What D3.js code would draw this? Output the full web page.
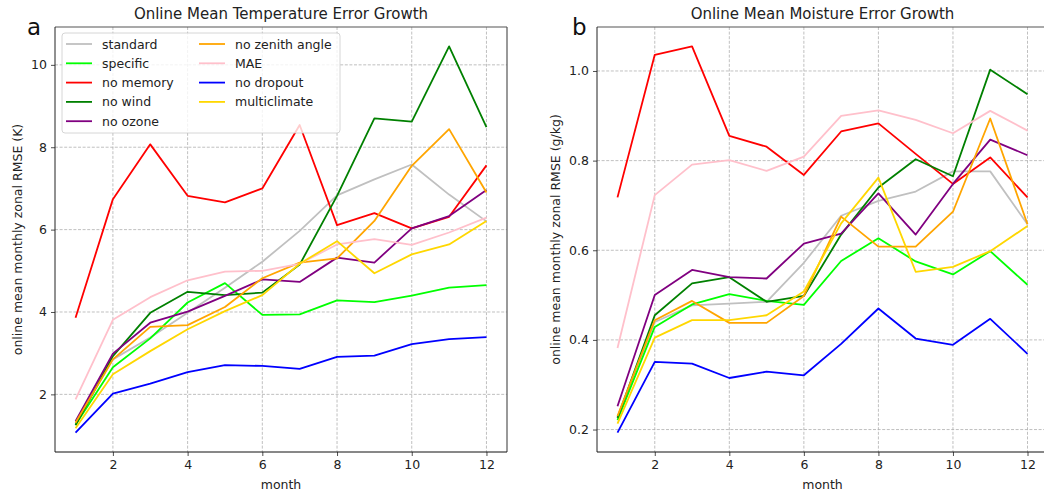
<!DOCTYPE html>
<html>
<head>
<meta charset="utf-8">
<script src="https://cdn.jsdelivr.net/npm/d3@7"></script>
<style>
  html, body { margin: 0; padding: 0; background: #fff; overflow: hidden; }
  svg { display: block; font-family: "DejaVu Sans", sans-serif; }
</style>
</head>
<body>
<svg id="chart" width="1044" height="495"></svg>
<script>
// Months on the x axis
const months = [1, 2, 3, 4, 5, 6, 7, 8, 9, 10, 11, 12];

// Experiment names and their line colours (plot order)
const seriesNames = ["standard", "specific", "no memory", "no wind", "no ozone",
                     "no zenith angle", "MAE", "no dropout", "multiclimate"];
const seriesColors = ["silver", "lime", "red", "green", "purple",
                      "orange", "pink", "blue", "gold"];

// Temperature RMSE (K)
const tempStandard   = [1.30, 2.85, 3.38, 3.98, 4.59, 5.22, 5.97, 6.83, 7.22, 7.58, 6.85, 6.20];
const tempSpecific   = [1.26, 2.66, 3.36, 4.23, 4.70, 3.93, 3.94, 4.28, 4.24, 4.40, 4.59, 4.65];
const tempNoMemory   = [3.86, 6.74, 8.07, 6.82, 6.66, 7.00, 8.54, 6.11, 6.40, 6.03, 6.31, 7.56];
const tempNoWind     = [1.25, 2.93, 3.98, 4.49, 4.41, 4.47, 5.15, 6.82, 8.70, 8.62, 10.45, 8.49];
const tempNoOzone    = [1.35, 2.99, 3.74, 4.01, 4.39, 4.79, 4.73, 5.32, 5.20, 6.03, 6.33, 6.96];
const tempNoZenith   = [1.31, 2.85, 3.64, 3.68, 4.12, 4.82, 5.20, 5.30, 6.21, 7.55, 8.44, 6.90];
const tempMAE        = [1.88, 3.81, 4.36, 4.77, 4.98, 5.00, 5.17, 5.64, 5.77, 5.63, 5.93, 6.29];
const tempNoDropout  = [1.07, 2.02, 2.26, 2.54, 2.71, 2.69, 2.62, 2.91, 2.94, 3.22, 3.34, 3.39];
const tempMulti      = [1.18, 2.49, 3.05, 3.58, 4.02, 4.41, 5.17, 5.72, 4.94, 5.40, 5.64, 6.21];

// Moisture RMSE (g/kg)
const moistStandard  = [0.228, 0.440, 0.477, 0.481, 0.485, 0.572, 0.677, 0.710, 0.731, 0.776, 0.776, 0.658];
const moistSpecific  = [0.221, 0.429, 0.479, 0.502, 0.487, 0.478, 0.576, 0.627, 0.575, 0.546, 0.598, 0.523];
const moistNoMemory  = [0.718, 1.036, 1.055, 0.855, 0.831, 0.768, 0.865, 0.883, 0.815, 0.748, 0.807, 0.718];
const moistNoWind    = [0.226, 0.455, 0.526, 0.540, 0.485, 0.498, 0.635, 0.740, 0.803, 0.765, 1.003, 0.948];
const moistNoOzone   = [0.252, 0.500, 0.556, 0.540, 0.537, 0.615, 0.637, 0.727, 0.635, 0.748, 0.847, 0.812];
const moistNoZenith  = [0.230, 0.444, 0.487, 0.438, 0.438, 0.498, 0.675, 0.608, 0.608, 0.686, 0.894, 0.658];
const moistMAE       = [0.382, 0.723, 0.791, 0.801, 0.777, 0.809, 0.900, 0.912, 0.891, 0.861, 0.911, 0.867];
const moistNoDropout = [0.193, 0.351, 0.347, 0.315, 0.329, 0.321, 0.391, 0.470, 0.403, 0.389, 0.447, 0.369];
const moistMulti     = [0.213, 0.405, 0.444, 0.444, 0.455, 0.508, 0.660, 0.762, 0.552, 0.563, 0.598, 0.654];

// Tick values
const xTicks = [2, 4, 6, 8, 10, 12];
const tempTicks = [2, 4, 6, 8, 10];
const moistTicks = [0.2, 0.4, 0.6, 0.8, 1.0];

const tempSeries = [tempStandard, tempSpecific, tempNoMemory, tempNoWind, tempNoOzone,
                    tempNoZenith, tempMAE, tempNoDropout, tempMulti];
const moistSeries = [moistStandard, moistSpecific, moistNoMemory, moistNoWind, moistNoOzone,
                     moistNoZenith, moistMAE, moistNoDropout, moistMulti];

const svg = d3.select("#chart");

function drawPanel(opts) {
  const { left, right, top, bottom, series, yTicks, yFormat, title, ylabel, letter, letterX, legend } = opts;

  // matplotlib-style 5% data margins
  const xmin = d3.min(months), xmax = d3.max(months);
  const xpad = (xmax - xmin) * 0.05;
  const allY = series.flat();
  const ymin = d3.min(allY), ymax = d3.max(allY);
  const ypad = (ymax - ymin) * 0.05;

  const x = d3.scaleLinear().domain([xmin - xpad, xmax + xpad]).range([left, right]);
  const y = d3.scaleLinear().domain([ymin - ypad, ymax + ypad]).range([bottom, top]);

  const g = svg.append("g");
  const clipId = "clip-" + letter;
  g.append("clipPath").attr("id", clipId)
    .append("rect").attr("x", left).attr("y", top).attr("width", right - left).attr("height", bottom - top);

  // Dashed grid
  const grid = g.append("g").attr("stroke", "#b0b0b0").attr("stroke-width", 0.8)
    .attr("stroke-dasharray", "3,1.6");
  xTicks.forEach(t => grid.append("line")
    .attr("x1", x(t)).attr("x2", x(t)).attr("y1", top).attr("y2", bottom));
  yTicks.forEach(t => grid.append("line")
    .attr("x1", left).attr("x2", right).attr("y1", y(t)).attr("y2", y(t)));

  // Lines
  const line = d3.line().x((d, i) => x(months[i])).y(d => y(d));
  const lines = g.append("g").attr("clip-path", `url(#${clipId})`);
  series.forEach((s, i) => {
    lines.append("path").datum(s)
      .attr("d", line)
      .attr("fill", "none")
      .attr("stroke", seriesColors[i])
      .attr("stroke-width", 1.8)
      .attr("stroke-linejoin", "round");
  });

  // Axes
  const xAxis = d3.axisBottom(x).tickValues(xTicks).tickSize(4).tickPadding(4);
  const yAxis = d3.axisLeft(y).tickValues(yTicks).tickSize(4).tickPadding(4).tickFormat(yFormat);
  const gx = g.append("g").attr("transform", `translate(0,${bottom})`).call(xAxis);
  const gy = g.append("g").attr("transform", `translate(${left},0)`).call(yAxis);
  [gx, gy].forEach(a => {
    a.select(".domain").remove();
    a.selectAll("text").attr("font-size", 12.5).attr("fill", "#222")
      .attr("font-family", "DejaVu Sans, sans-serif");
    a.selectAll("line").attr("stroke", "#222").attr("stroke-width", 0.8);
  });

  // Frame: left/bottom spines dark, top/right slightly softer
  const frame = g.append("g").attr("fill", "none");
  frame.append("line").attr("x1", left).attr("x2", right).attr("y1", top).attr("y2", top)
    .attr("stroke", "#555").attr("stroke-width", 1.2);
  frame.append("line").attr("x1", right).attr("x2", right).attr("y1", top).attr("y2", bottom)
    .attr("stroke", "#555").attr("stroke-width", 1.2);
  frame.append("line").attr("x1", left).attr("x2", left).attr("y1", top).attr("y2", bottom)
    .attr("stroke", "#222").attr("stroke-width", 1);
  frame.append("line").attr("x1", left).attr("x2", right).attr("y1", bottom).attr("y2", bottom)
    .attr("stroke", "#111").attr("stroke-width", 1);

  // Titles and labels
  g.append("text").attr("x", (left + right) / 2).attr("y", top - 8)
    .attr("text-anchor", "middle").attr("font-size", 15).attr("fill", "#222").text(title);
  g.append("text").attr("x", (left + right) / 2).attr("y", bottom + 37)
    .attr("text-anchor", "middle").attr("font-size", 12.5).attr("fill", "#222").text("month");
  g.append("text")
    .attr("transform", `translate(${opts.ylabelX},${(top + bottom) / 2}) rotate(-90)`)
    .attr("text-anchor", "middle").attr("font-size", 12.5).attr("fill", "#222").text(ylabel);
  g.append("text").attr("x", letterX).attr("y", top + 8)
    .attr("font-size", 23).attr("fill", "#111").text(letter);

  if (legend) {
    const lx = left + 7, ly = top + 6, lw = 278, lh = 100;
    const lg = g.append("g");
    lg.append("rect").attr("x", lx).attr("y", ly).attr("width", lw).attr("height", lh)
      .attr("rx", 3).attr("fill", "rgba(255,255,255,0.8)").attr("stroke", "#cccccc").attr("stroke-width", 0.8);
    seriesNames.forEach((name, i) => {
      const col = i < 5 ? 0 : 1;
      const row = i < 5 ? i : i - 5;
      const hx = lx + 4 + col * 133;
      const hy = ly + 11 + row * 19.3;
      lg.append("line").attr("x1", hx).attr("x2", hx + 26).attr("y1", hy).attr("y2", hy)
        .attr("stroke", seriesColors[i]).attr("stroke-width", 1.8);
      lg.append("text").attr("x", hx + 36).attr("y", hy + 4.5)
        .attr("font-size", 12.5).attr("fill", "#222").text(name);
    });
  }
}

drawPanel({
  left: 55, right: 507, top: 27, bottom: 452,
  series: tempSeries, yTicks: tempTicks, yFormat: d3.format("d"),
  title: "Online Mean Temperature Error Growth",
  ylabel: "online mean monthly zonal RMSE (K)", ylabelX: 22,
  letter: "a", letterX: 27, legend: true
});

drawPanel({
  left: 597, right: 1048, top: 27, bottom: 452,
  series: moistSeries, yTicks: moistTicks, yFormat: d3.format(".1f"),
  title: "Online Mean Moisture Error Growth",
  ylabel: "online mean monthly zonal RMSE (g/kg)", ylabelX: 560,
  letter: "b", letterX: 572, legend: false
});
</script>
</body>
</html>
